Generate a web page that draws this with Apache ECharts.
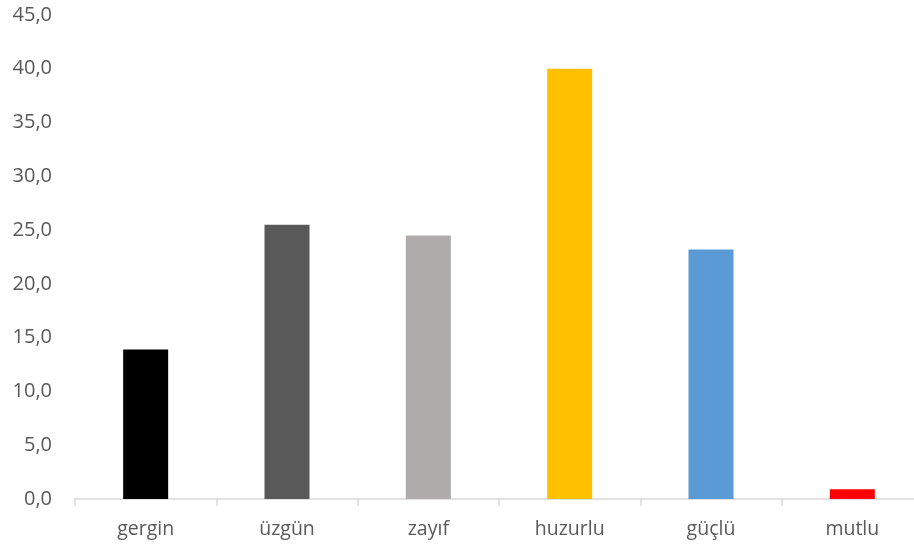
<!DOCTYPE html>
<html>
<head>
<meta charset="utf-8">
<script src="https://cdn.jsdelivr.net/npm/echarts@6/dist/echarts.min.js"></script>
<style>
  html, body { margin: 0; padding: 0; background: #fff; }
  #main { width: 914px; height: 548px; }
</style>
</head>
<body>
<div id="main"></div>
<script>
var categories = ['gergin', 'üzgün', 'zayıf', 'huzurlu', 'güçlü', 'mutlu'];
var values = [13.9, 25.5, 24.5, 40.0, 23.2, 0.9];
var barColors = ['#000000', '#595959', '#afabab', '#ffc000', '#5b9bd5', '#ff0000'];

var myChart = echarts.init(document.getElementById('main'));

myChart.setOption({
    animation: false,
    grid: {
        left: 75,
        width: 848,
        top: 15,
        bottom: 49,
        containLabel: false,
        outerBoundsMode: 'none'
    },
    xAxis: {
        type: 'category',
        data: categories,
        axisLine: { lineStyle: { color: '#d9d9d9', width: 1.5 } },
        axisTick: { show: true, length: 7, lineStyle: { color: '#d9d9d9', width: 1.5 } },
        axisLabel: {
            color: '#595959',
            fontFamily: 'Open Sans',
            fontSize: 19.5,
            margin: 20
        }
    },
    yAxis: {
        type: 'value',
        min: 0,
        max: 45,
        interval: 5,
        splitLine: { show: false },
        axisLine: { show: false },
        axisTick: { show: false },
        axisLabel: {
            color: '#595959',
            fontFamily: 'Open Sans',
            fontSize: 20,
            margin: 23,
            formatter: function (v) {
                return v.toFixed(1).replace('.', ',');
            }
        }
    },
    series: [{
        type: 'bar',
        barWidth: 45,
        data: values.map(function (v, i) {
            return { value: v, itemStyle: { color: barColors[i] } };
        })
    }]
});
</script>
</body>
</html>
